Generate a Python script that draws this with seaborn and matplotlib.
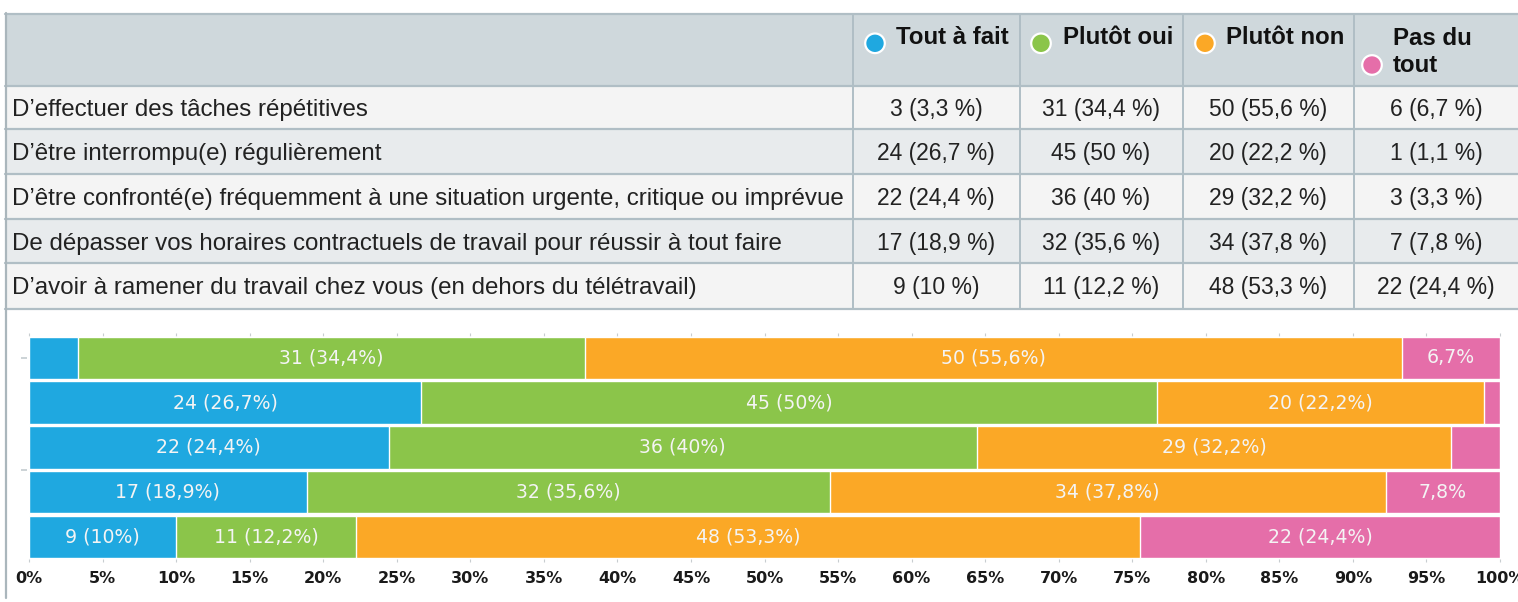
import numpy as np
import pandas as pd
import matplotlib
matplotlib.use("Agg")
import matplotlib.pyplot as plt
from matplotlib.patches import Rectangle, Circle
import seaborn as sns

# ---------------- data ----------------
items = [
    "D\u2019effectuer des tâches répétitives",
    "D\u2019être interrompu(e) régulièrement",
    "D\u2019être confronté(e) fréquemment à une situation urgente, critique ou imprévue",
    "De dépasser vos horaires contractuels de travail pour réussir à tout faire",
    "D\u2019avoir à ramener du travail chez vous (en dehors du télétravail)",
]
categories = ["Tout à fait", "Plutôt oui", "Plutôt non", "Pas du tout"]
tout_a_fait = [3, 24, 22, 17, 9]
plutot_oui = [31, 45, 36, 32, 11]
plutot_non = [50, 20, 29, 34, 48]
pas_du_tout = [6, 1, 3, 7, 22]
pct_tout_a_fait = ["3,3", "26,7", "24,4", "18,9", "10"]
pct_plutot_oui = ["34,4", "50", "40", "35,6", "12,2"]
pct_plutot_non = ["55,6", "22,2", "32,2", "37,8", "53,3"]
pct_pas_du_tout = ["6,7", "1,1", "3,3", "7,8", "24,4"]
x_ticks = list(range(0, 101, 5))

colors = ["#1fa8e0", "#8bc54a", "#fba826", "#e56ea9"]

counts = [tout_a_fait, plutot_oui, plutot_non, pas_du_tout]
pcts = [pct_tout_a_fait, pct_plutot_oui, pct_plutot_non, pct_pas_du_tout]

# ---------------- figure ----------------
sns.set_style("white")
plt.rcParams["font.family"] = ["Liberation Sans", "DejaVu Sans"]
W, H = 1518, 602
fig = plt.figure(figsize=(W / 100, H / 100), dpi=100)

# ----- table (pixel coordinates) -----
tab = fig.add_axes([0, 0, 1, 1])
tab.set_xlim(0, W)
tab.set_ylim(H, 0)
tab.axis("off")

line_c = "#b0bec5"
row_edges = [86, 129.3, 174.3, 219, 263.3, 308.5]
col_edges = [5, 853, 1020, 1183, 1354, W]
tab.add_patch(Rectangle((5, 14), W - 5, 72, facecolor="#cfd8dc", edgecolor="none"))
for i in range(5):
    fc = "#f4f4f4" if i % 2 == 0 else "#e8ebed"
    tab.add_patch(Rectangle((5, row_edges[i]), W - 5, row_edges[i + 1] - row_edges[i],
                            facecolor=fc, edgecolor="none"))
tab.plot([5, W], [14, 14], color=line_c, lw=1.6)
for y in row_edges:
    tab.plot([5, W], [y, y], color=line_c, lw=1.6)
for x in col_edges[1:-1]:
    tab.plot([x, x], [14, row_edges[-1]], color=line_c, lw=1.4)
# long left border line
tab.plot([5.8, 5.8], [13, 598], color="#aab6bc", lw=1.6)

# header
hdr_text_x = [896, 1063, 1226]
hdr_circ_x = [875, 1041, 1205]
for k in range(3):
    tab.add_patch(Circle((hdr_circ_x[k], 43.3), 9.8, facecolor=colors[k],
                         edgecolor="white", lw=1.6))
    tab.text(hdr_text_x[k], 44.3, categories[k], fontsize=17.3, fontweight="bold",
             color="#111111", ha="left", va="baseline")
pd_words = categories[3].split(" ")
tab.text(1393, 45, " ".join(pd_words[:2]), fontsize=17.3, fontweight="bold",
         color="#111111", ha="left", va="baseline")
tab.text(1393, 71.7, pd_words[2], fontsize=17.3, fontweight="bold",
         color="#111111", ha="left", va="baseline")
tab.add_patch(Circle((1372, 65), 9.8, facecolor=colors[3], edgecolor="white", lw=1.6))

# rows
col_centers = [936, 1101, 1268, 1436]
for i, item in enumerate(items):
    yc = (row_edges[i] + row_edges[i + 1]) / 2 + 8.4
    tab.text(12, yc, item, fontsize=17.4, color="#222222", ha="left", va="baseline")
    for k in range(4):
        tab.text(col_centers[k], yc, f"{counts[k][i]} ({pcts[k][i]} %)", fontsize=16.5,
                 color="#222222", ha="center", va="baseline")

# ----- stacked bar chart -----
ax_left, ax_right = 29 / W, 1500 / W
ax_bottom, ax_top = (H - 559.2) / H, (H - 335.5) / H
ax = fig.add_axes([ax_left, ax_bottom, ax_right - ax_left, ax_top - ax_bottom])
ax.patch.set_alpha(0)

ids = [str(i) for i in range(len(items))]
totals = np.sum(np.array(counts), axis=0)
shares = [np.array(c) / totals * 100 for c in counts]
cums = np.cumsum(np.array(shares), axis=0)
df = pd.DataFrame({"item": ids})
for k in range(4):
    df[f"cum{k}"] = cums[k]

for k in [3, 2, 1, 0]:
    sns.barplot(data=df, x=f"cum{k}", y="item", orient="h", color=colors[k],
                saturation=1, width=0.953, edgecolor="white", linewidth=1.0, ax=ax)

for k in range(4):
    for i in range(len(items)):
        w = shares[k][i]
        xc = cums[k][i] - w / 2
        if w >= 9.5:
            lab = f"{counts[k][i]} ({pcts[k][i]}%)"
        elif w >= 5:
            lab = f"{pcts[k][i]}%"
        else:
            continue
        ax.text(xc, i, lab, ha="center", va="center", fontsize=13.6,
                color="#f4f4f4", family="DejaVu Sans")

ax.set_xlim(0, 100)
ax.set_ylim(4.5, -0.5)
ax.set_xlabel("")
ax.set_ylabel("")
ax.set_xticks(x_ticks)
ax.set_xticklabels([f"{v}%" for v in x_ticks], fontsize=11.5, fontweight="bold",
                   color="#1a1a1a", family="DejaVu Sans")
ax.set_yticks([0, 2.5])
ax.set_yticklabels(["", ""])
for s in ax.spines.values():
    s.set_visible(False)
ax.spines["left"].set_position(("outward", 1.5))
ax.tick_params(axis="x", which="both", bottom=True, top=True, labelbottom=True,
               labeltop=False, direction="out", length=2.5, width=0.8,
               color="#c8cdd0", pad=6.0)
ax.tick_params(axis="y", left=True, direction="out", length=4.5, width=1.2,
               color="#c4ccd0")

fig.savefig("out.png", dpi=100)
